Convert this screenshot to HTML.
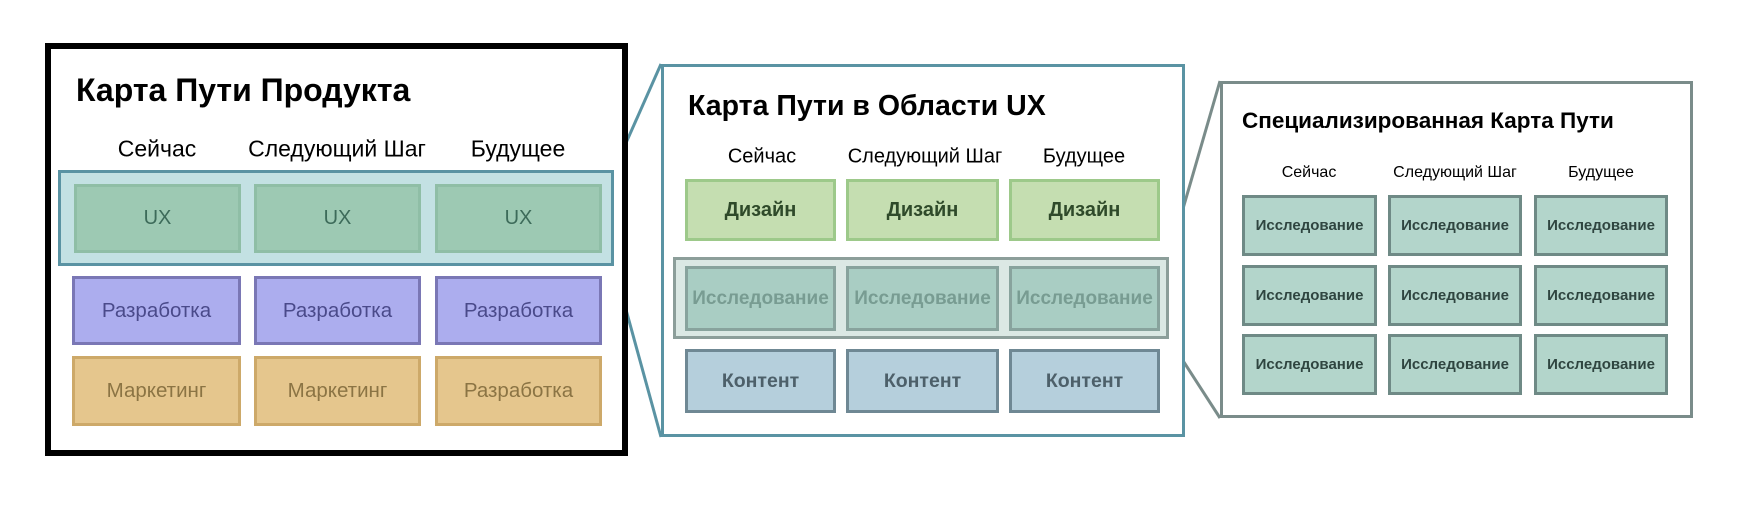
<!DOCTYPE html>
<html><head><meta charset="utf-8"><style>
body{margin:0;width:1758px;height:506px;background:#fff;position:relative;overflow:hidden;font-family:"Liberation Sans","DejaVu Sans",sans-serif}
.a{position:absolute;box-sizing:border-box}
.b{position:absolute;box-sizing:border-box;display:flex;align-items:center;justify-content:center;text-align:center;white-space:nowrap}
.t{position:absolute;white-space:nowrap;transform:translate(-50%,-50%)}
</style></head><body>
<svg class="a" style="left:0;top:0" width="1758" height="506">
<line x1="614" y1="170" x2="661" y2="64" stroke="#5a93a3" stroke-width="3"/>
<line x1="614" y1="266" x2="661" y2="437" stroke="#5a93a3" stroke-width="3"/>
<line x1="1169" y1="257" x2="1220" y2="81" stroke="#7a8c8a" stroke-width="3"/>
<line x1="1169" y1="339" x2="1220" y2="418" stroke="#7a8c8a" stroke-width="3"/>
</svg>
<!-- panel 1 -->
<div class="a" style="left:45px;top:43px;width:583px;height:413px;border:6px solid #000;background:#fff"></div>
<div class="a" style="left:76px;top:72px;font-size:32px;font-weight:bold">Карта Пути Продукта</div>
<div class="t" style="left:157px;top:149px;font-size:23px">Сейчас</div>
<div class="t" style="left:337px;top:149px;font-size:23px">Следующий Шаг</div>
<div class="t" style="left:518px;top:149px;font-size:23px">Будущее</div>
<div class="a" style="left:58px;top:170px;width:556px;height:96px;border:3px solid #5a93a3;background:#c3e1e3"></div>
<div class="b" style="left:74px;top:184px;width:167px;height:69px;background:#9dc9b3;border:3px solid #8fbea6;color:#3d6b5a;font-size:20px">UX</div>
<div class="b" style="left:254px;top:184px;width:167px;height:69px;background:#9dc9b3;border:3px solid #8fbea6;color:#3d6b5a;font-size:20px">UX</div>
<div class="b" style="left:435px;top:184px;width:167px;height:69px;background:#9dc9b3;border:3px solid #8fbea6;color:#3d6b5a;font-size:20px">UX</div>
<div class="b" style="left:72px;top:276px;width:169px;height:69px;background:#acadee;border:3px solid #7a77b5;color:#4a4a8a;font-size:20.5px">Разработка</div>
<div class="b" style="left:254px;top:276px;width:167px;height:69px;background:#acadee;border:3px solid #7a77b5;color:#4a4a8a;font-size:20.5px">Разработка</div>
<div class="b" style="left:435px;top:276px;width:167px;height:69px;background:#acadee;border:3px solid #7a77b5;color:#4a4a8a;font-size:20.5px">Разработка</div>
<div class="b" style="left:72px;top:356px;width:169px;height:70px;background:#e5c68d;border:3px solid #cda969;color:#8b7444;font-size:20.5px">Маркетинг</div>
<div class="b" style="left:254px;top:356px;width:167px;height:70px;background:#e5c68d;border:3px solid #cda969;color:#8b7444;font-size:20.5px">Маркетинг</div>
<div class="b" style="left:435px;top:356px;width:167px;height:70px;background:#e5c68d;border:3px solid #cda969;color:#8b7444;font-size:20.5px">Разработка</div>
<!-- panel 2 -->
<div class="a" style="left:661px;top:64px;width:524px;height:373px;border:3px solid #5a93a3;background:#fff"></div>
<div class="a" style="left:688px;top:90px;font-size:28.5px;font-weight:bold">Карта Пути в Области UX</div>
<div class="t" style="left:762px;top:157px;font-size:20px">Сейчас</div>
<div class="t" style="left:925px;top:157px;font-size:20px">Следующий Шаг</div>
<div class="t" style="left:1084px;top:157px;font-size:20px">Будущее</div>
<div class="b" style="left:685px;top:179px;width:151px;height:62px;background:#c5deb1;border:3px solid #9dc98a;color:#2f4a2a;font-size:20px;font-weight:bold">Дизайн</div>
<div class="b" style="left:846px;top:179px;width:153px;height:62px;background:#c5deb1;border:3px solid #9dc98a;color:#2f4a2a;font-size:20px;font-weight:bold">Дизайн</div>
<div class="b" style="left:1009px;top:179px;width:151px;height:62px;background:#c5deb1;border:3px solid #9dc98a;color:#2f4a2a;font-size:20px;font-weight:bold">Дизайн</div>
<div class="a" style="left:673px;top:257px;width:496px;height:82px;border:3px solid #8c9e9a;background:#dbe8e4"></div>
<div class="b" style="left:685px;top:266px;width:151px;height:65px;background:#a9cdc3;border:3px solid #88a39d;color:#789c92;font-size:19px;font-weight:bold">Исследование</div>
<div class="b" style="left:846px;top:266px;width:153px;height:65px;background:#a9cdc3;border:3px solid #88a39d;color:#789c92;font-size:19px;font-weight:bold">Исследование</div>
<div class="b" style="left:1009px;top:266px;width:151px;height:65px;background:#a9cdc3;border:3px solid #88a39d;color:#789c92;font-size:19px;font-weight:bold">Исследование</div>
<div class="b" style="left:685px;top:349px;width:151px;height:64px;background:#b5cfdc;border:3px solid #6f8894;color:#4d606a;font-size:19.5px;font-weight:bold">Контент</div>
<div class="b" style="left:846px;top:349px;width:153px;height:64px;background:#b5cfdc;border:3px solid #6f8894;color:#4d606a;font-size:19.5px;font-weight:bold">Контент</div>
<div class="b" style="left:1009px;top:349px;width:151px;height:64px;background:#b5cfdc;border:3px solid #6f8894;color:#4d606a;font-size:19.5px;font-weight:bold">Контент</div>
<!-- panel 3 -->
<div class="a" style="left:1220px;top:81px;width:473px;height:337px;border:3px solid #7a8c8a;background:#fff"></div>
<div class="a" style="left:1242px;top:108px;font-size:22.5px;font-weight:bold">Специализированная Карта Пути</div>
<div class="t" style="left:1309px;top:173px;font-size:16px">Сейчас</div>
<div class="t" style="left:1455px;top:173px;font-size:16px">Следующий Шаг</div>
<div class="t" style="left:1601px;top:173px;font-size:16px">Будущее</div>
<div class="b" style="left:1242px;top:195px;width:135px;height:61px;background:#b3d5cb;border:3px solid #6f8a86;color:#2f4540;font-size:15px;font-weight:bold">Исследование</div>
<div class="b" style="left:1388px;top:195px;width:134px;height:61px;background:#b3d5cb;border:3px solid #6f8a86;color:#2f4540;font-size:15px;font-weight:bold">Исследование</div>
<div class="b" style="left:1534px;top:195px;width:134px;height:61px;background:#b3d5cb;border:3px solid #6f8a86;color:#2f4540;font-size:15px;font-weight:bold">Исследование</div>
<div class="b" style="left:1242px;top:265px;width:135px;height:61px;background:#b3d5cb;border:3px solid #6f8a86;color:#2f4540;font-size:15px;font-weight:bold">Исследование</div>
<div class="b" style="left:1388px;top:265px;width:134px;height:61px;background:#b3d5cb;border:3px solid #6f8a86;color:#2f4540;font-size:15px;font-weight:bold">Исследование</div>
<div class="b" style="left:1534px;top:265px;width:134px;height:61px;background:#b3d5cb;border:3px solid #6f8a86;color:#2f4540;font-size:15px;font-weight:bold">Исследование</div>
<div class="b" style="left:1242px;top:334px;width:135px;height:61px;background:#b3d5cb;border:3px solid #6f8a86;color:#2f4540;font-size:15px;font-weight:bold">Исследование</div>
<div class="b" style="left:1388px;top:334px;width:134px;height:61px;background:#b3d5cb;border:3px solid #6f8a86;color:#2f4540;font-size:15px;font-weight:bold">Исследование</div>
<div class="b" style="left:1534px;top:334px;width:134px;height:61px;background:#b3d5cb;border:3px solid #6f8a86;color:#2f4540;font-size:15px;font-weight:bold">Исследование</div>
</body></html>
